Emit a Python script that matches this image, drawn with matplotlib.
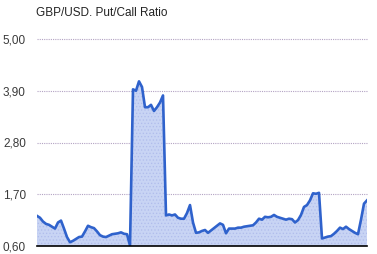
import matplotlib
matplotlib.use("Agg")
import matplotlib.pyplot as plt
import numpy as np

# put/call ratio, one value per period
ratio = [1.24, 1.20, 1.12, 1.07, 1.05, 1.01, 0.97, 1.10, 1.14, 0.97,
         0.79, 0.68, 0.71, 0.75, 0.79, 0.80, 0.91, 1.03, 1.00, 0.98,
         0.91, 0.83, 0.80, 0.79, 0.82, 0.85, 0.86, 0.87, 0.89, 0.86,
         0.85, 0.61, 3.93, 3.90, 4.10, 3.98, 3.55, 3.55, 3.60, 3.47,
         3.55, 3.65, 3.80, 1.25, 1.27, 1.25, 1.27, 1.20, 1.18, 1.18,
         1.30, 1.47, 1.10, 0.88, 0.89, 0.92, 0.94, 0.88, 0.93, 0.98,
         1.03, 1.08, 1.05, 0.87, 0.97, 0.97, 0.97, 0.99, 0.99, 1.01,
         1.02, 1.03, 1.04, 1.10, 1.18, 1.16, 1.22, 1.21, 1.22, 1.26,
         1.22, 1.20, 1.18, 1.16, 1.18, 1.17, 1.10, 1.15, 1.26, 1.43,
         1.47, 1.57, 1.72, 1.71, 1.73, 0.76, 0.78, 0.80, 0.81, 0.86,
         0.92, 0.99, 0.96, 1.01, 0.96, 0.92, 0.88, 0.85, 1.16, 1.50,
         1.57]
yticks = [0.60, 1.70, 2.80, 3.90, 5.00]
ytick_labels = ["0,60", "1,70", "2,80", "3,90", "5,00"]
title = "GBP/USD. Put/Call Ratio"

plt.rcParams['font.family'] = ['Liberation Sans', 'DejaVu Sans']
plt.rcParams['hatch.color'] = '#b0bcec'
plt.rcParams['hatch.linewidth'] = 0.5

x = np.arange(len(ratio))

fig = plt.figure(figsize=(3.77, 2.54), dpi=100)
ax = fig.add_axes([37/377, 8/254, 330/377, 207/254])

ax.fill_between(x, 0.60, ratio, facecolor='#c8d4f4', edgecolor='#b0bcec',
                hatch='.....', linewidth=0, zorder=1)
ax.plot(x, ratio, color='#2f62cc', lw=1.9, zorder=3)

ax.set_xlim(0, len(ratio) - 1)
ax.set_ylim(0.60, 5.00)
ax.set_yticks(yticks)
ax.set_yticklabels(ytick_labels, fontsize=8.5, color='#3a3a3a')
ax.set_xticks([])
ax.tick_params(axis='y', length=0, pad=8)
for t in yticks[1:]:
    ax.axhline(t, color='#b3a3c3', lw=0.8, ls=(0, (1, 1)), zorder=0, clip_on=False)
for s in ['top', 'right', 'left']:
    ax.spines[s].set_visible(False)
ax.spines['bottom'].set_color('black')
ax.spines['bottom'].set_linewidth(1.2)
ax.spines['bottom'].set_zorder(4)

fig.text(36/377, 1 - 13/254, title, fontsize=8.5, color='#222222', va='center', ha='left')

fig.savefig("out.png", dpi=100)
